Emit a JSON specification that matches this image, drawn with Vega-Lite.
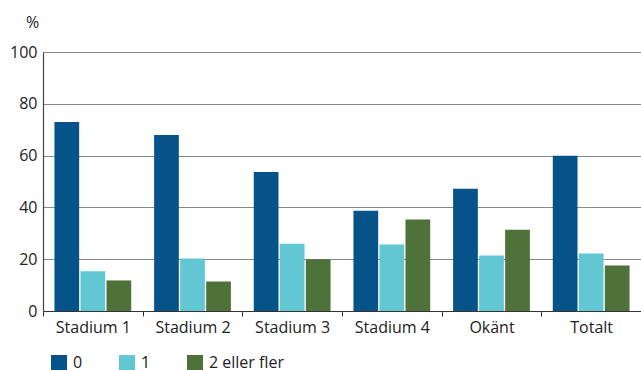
{
  "$schema": "https://vega.github.io/schema/vega-lite/v6.json",
  "autosize": "none",
  "width": 598,
  "height": 259,
  "padding": {"left": 43, "top": 52, "right": 0, "bottom": 59},
  "background": "white",
  "config": {
    "font": "Open Sans",
    "view": {"stroke": null},
    "axis": {"labelFont": "Open Sans", "titleFont": "Open Sans", "labelColor": "#222", "titleColor": "#222"}
  },
  "data": {
    "values": [
      {"kat": "Stadium 1", "grupp": "0", "varde": 73.0},
      {"kat": "Stadium 1", "grupp": "1", "varde": 15.3},
      {"kat": "Stadium 1", "grupp": "2 eller fler", "varde": 11.8},
      {"kat": "Stadium 2", "grupp": "0", "varde": 68.0},
      {"kat": "Stadium 2", "grupp": "1", "varde": 20.3},
      {"kat": "Stadium 2", "grupp": "2 eller fler", "varde": 11.4},
      {"kat": "Stadium 3", "grupp": "0", "varde": 53.7},
      {"kat": "Stadium 3", "grupp": "1", "varde": 26.0},
      {"kat": "Stadium 3", "grupp": "2 eller fler", "varde": 20.0},
      {"kat": "Stadium 4", "grupp": "0", "varde": 38.7},
      {"kat": "Stadium 4", "grupp": "1", "varde": 25.7},
      {"kat": "Stadium 4", "grupp": "2 eller fler", "varde": 35.3},
      {"kat": "Okänt", "grupp": "0", "varde": 47.2},
      {"kat": "Okänt", "grupp": "1", "varde": 21.4},
      {"kat": "Okänt", "grupp": "2 eller fler", "varde": 31.4},
      {"kat": "Totalt", "grupp": "0", "varde": 59.9},
      {"kat": "Totalt", "grupp": "1", "varde": 22.2},
      {"kat": "Totalt", "grupp": "2 eller fler", "varde": 17.6}
    ]
  },
  "mark": {"type": "bar"},
  "encoding": {
    "x": {
      "field": "kat", "type": "nominal", "sort": null,
      "scale": {"paddingInner": 0, "paddingOuter": 0},
      "axis": {
        "title": null, "labelAngle": 0, "labelFontSize": 16,
        "tickBand": "extent", "tickSize": 5, "tickColor": "#333", "tickWidth": 1,
        "domainColor": "#333", "domainWidth": 1.2, "labelPadding": 3, "grid": false
      }
    },
    "xOffset": {
      "field": "grupp", "type": "nominal", "sort": null,
      "scale": {"paddingInner": 0.05, "paddingOuter": 0.44}
    },
    "y": {
      "field": "varde", "type": "quantitative",
      "scale": {"domain": [0, 100], "nice": false},
      "axis": {
        "values": [0, 20, 40, 60, 80, 100],
        "title": "%", "titleAngle": 0, "titleFontSize": 16, "titleFontWeight": "normal",
        "titleX": -11, "titleY": -25,
        "titleAlign": "center", "titleBaseline": "alphabetic",
        "labelFontSize": 16, "labelPadding": 6, "ticks": false,
        "domainColor": "#444", "domainWidth": 1.2,
        "grid": true, "gridColor": "#888", "gridWidth": 1
      }
    },
    "color": {
      "field": "grupp", "type": "nominal", "sort": null,
      "scale": {"domain": ["0", "1", "2 eller fler"], "range": ["#06538A", "#62C6D3", "#4F723B"]},
      "legend": {
        "title": null, "orient": "none", "legendX": 8, "legendY": 303, "direction": "horizontal",
        "symbolType": "square", "symbolSize": 256, "symbolStrokeWidth": 0, "symbolOpacity": 1,
        "labelFontSize": 16, "labelColor": "#222", "labelOffset": 6, "columnPadding": 36, "padding": 0
      }
    }
  }
}
